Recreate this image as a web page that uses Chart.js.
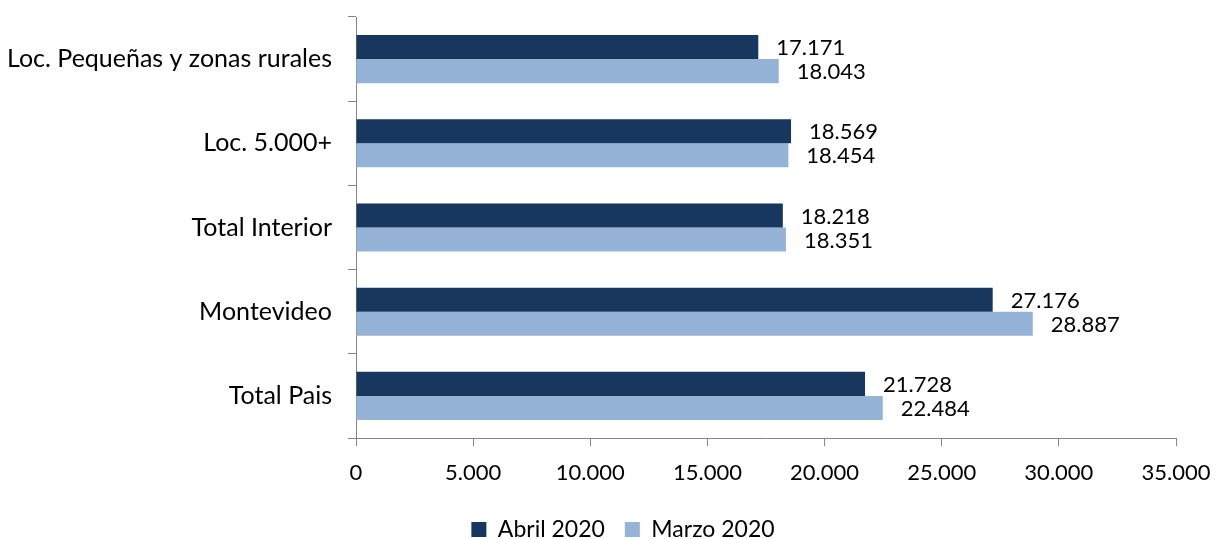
<!DOCTYPE html>
<html><head><meta charset="utf-8">
<script src="https://cdn.jsdelivr.net/npm/chart.js@4"></script>
<style>html,body{margin:0;padding:0;background:#fff}#wrap{width:1217px;height:539px}</style>
</head><body><div id="wrap"><canvas id="c" width="1217" height="539"></canvas></div>
<script>
const categories = ['Loc. Pequeñas y zonas rurales', 'Loc. 5.000+', 'Total Interior', 'Montevideo', 'Total Pais'];
const abril2020 = [17171, 18569, 18218, 27176, 21728];
const marzo2020 = [18043, 18454, 18351, 28887, 22484];
const xTicks = [0, 5000, 10000, 15000, 20000, 25000, 30000, 35000];
const seriesNames = ['Abril 2020', 'Marzo 2020'];

const FONT = 'Lato, "Open Sans", sans-serif';
const fmt = v => String(Math.round(v)).replace(/\B(?=(\d{3})+(?!\d))/g, '.');

const labelPlugin = {
  id: 'barLabels',
  afterLayout(chart) {
    // shift legend box so its centre sits where the reference legend is
    if (chart.legend) { chart.legend.left = 70; }
  },
  afterDatasetsDraw(chart) {
    const ctx = chart.ctx;
    ctx.save();
    ctx.font = '22px ' + FONT;
    ctx.fillStyle = '#000';
    ctx.textAlign = 'left';
    ctx.textBaseline = 'middle';
    chart.data.datasets.forEach((ds, i) => {
      chart.getDatasetMeta(i).data.forEach((bar, j) => {
        ctx.fillText(fmt(ds.data[j]), bar.x + 18, bar.y + 1);
      });
    });
    ctx.restore();
  }
};

new Chart(document.getElementById('c'), {
  type: 'bar',
  data: {
    labels: categories,
    datasets: [
      { label: seriesNames[0], data: abril2020, backgroundColor: '#17375E', categoryPercentage: 0.571, barPercentage: 1.0 },
      { label: seriesNames[1], data: marzo2020, backgroundColor: '#95B3D7', categoryPercentage: 0.571, barPercentage: 1.0 }
    ]
  },
  options: {
    indexAxis: 'y',
    responsive: false,
    animation: false,
    layout: { padding: { left: 0, right: 41, top: 17, bottom: -12 } },
    plugins: {
      legend: {
        position: 'bottom',
        labels: { font: { family: FONT, size: 23 }, color: '#000', boxWidth: 15, boxHeight: 15, padding: 20 }
      },
      tooltip: { enabled: false }
    },
    scales: {
      x: {
        min: 0, max: 35000,
        afterBuildTicks: s => { s.ticks = xTicks.map(v => ({ value: v })); },
        ticks: { font: { family: FONT, size: 22 }, color: '#000', padding: 14, maxRotation: 0, callback: v => fmt(v) },
        grid: { drawOnChartArea: false, drawTicks: true, tickLength: 8, color: '#868686' },
        border: { color: '#868686', width: 1 },
        afterFit: s => { s.height = 60; s.paddingLeft = 0; s.paddingRight = 0; }
      },
      y: {
        ticks: { font: { family: FONT, size: 25 }, color: '#000', padding: 16 },
        grid: { drawOnChartArea: false, drawTicks: true, tickLength: 8, color: '#868686', offset: true },
        border: { color: '#868686', width: 1 },
        afterFit: s => { s.width = 356; s.paddingTop = 0; s.paddingBottom = 0; }
      }
    }
  },
  plugins: [labelPlugin]
});
</script></body></html>
